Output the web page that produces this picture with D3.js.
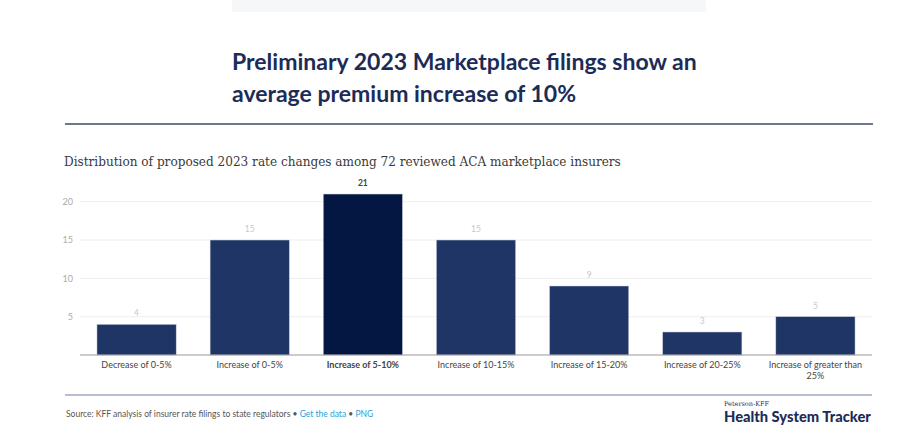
<!DOCTYPE html>
<html><head><meta charset="utf-8">
<script src="https://cdn.jsdelivr.net/npm/d3@7"></script>
<style>
html,body{margin:0;padding:0;background:#fff;}
svg{display:block;}
</style></head>
<body>
<svg id="chart" width="900" height="433"></svg>
<script>
const categories = ["Decrease of 0-5%","Increase of 0-5%","Increase of 5-10%","Increase of 10-15%","Increase of 15-20%","Increase of 20-25%","Increase of greater than 25%"];
const values = [4, 15, 21, 15, 9, 3, 5];
const highlight = "Increase of 5-10%";
const yTicks = [5, 10, 15, 20];
const titleLines = ["Preliminary 2023 Marketplace filings show an","average premium increase of 10%"];
const subtitle = "Distribution of proposed 2023 rate changes among 72 reviewed ACA marketplace insurers";

const svg = d3.select("#chart");
const sans = "Lato, 'Open Sans', sans-serif";

svg.append("rect").attr("x",232).attr("y",0).attr("width",474).attr("height",12).attr("fill","#f6f7f9");

function fit(sel, target){
  const w = sel.node().getComputedTextLength();
  const fs = parseFloat(sel.attr("font-size"));
  sel.attr("font-size", (fs*target/w).toFixed(2));
}

const t1 = svg.append("text").attr("x",232).attr("y",70).attr("font-family",sans).attr("font-weight",700)
  .attr("font-size",22).attr("fill","#1d2b57").text(titleLines[0]);
fit(t1, 465);
svg.append("text").attr("x",232).attr("y",102).attr("font-family",sans).attr("font-weight",700)
  .attr("font-size",t1.attr("font-size")).attr("fill","#1d2b57").text(titleLines[1]);

svg.append("line").attr("x1",65).attr("x2",873).attr("y1",124).attr("y2",124).attr("stroke","#3d4a66").attr("stroke-width",1.5);

const st = svg.append("text").attr("x",64).attr("y",166).attr("font-family","'DejaVu Serif Condensed', 'DejaVu Serif', serif")
  .style("font-stretch","condensed")
  .attr("font-size",12).attr("fill","#3a3a3a").text(subtitle);
fit(st, 557);

const x = d3.scaleBand().domain(categories).range([80, 872]).paddingInner(0.3).paddingOuter(0.15);
const y = d3.scaleLinear().domain([0, 20]).range([355, 201.7]);

svg.append("g").selectAll("line").data(yTicks).join("line")
  .attr("x1",80).attr("x2",872).attr("y1",d=>y(d)).attr("y2",d=>y(d))
  .attr("stroke","#eeeeee").attr("stroke-width",1);

svg.append("g").selectAll("text").data(yTicks).join("text")
  .attr("x",73).attr("y",d=>y(d)).attr("dy","0.35em").attr("text-anchor","end")
  .attr("font-family",sans).attr("font-size",9).attr("fill","#aaaaaa").text(d=>d);

svg.append("g").selectAll("rect").data(values).join("rect")
  .attr("x",(d,i)=>x(categories[i])).attr("width",x.bandwidth())
  .attr("y",d=>y(d)).attr("height",d=>y(0)-y(d))
  .attr("fill",(d,i)=>categories[i]===highlight?"#041642":"#1f3566")
  .attr("stroke","#c9cfdc").attr("stroke-width",0.5);

svg.append("g").selectAll("text").data(values).join("text")
  .attr("x",(d,i)=>x(categories[i])+x.bandwidth()/2).attr("y",d=>y(d)-8)
  .attr("text-anchor","middle").attr("font-family",sans).attr("font-size",8.5)
  .attr("font-weight",(d,i)=>categories[i]===highlight?700:400)
  .attr("fill",(d,i)=>categories[i]===highlight?"#444":"#c8c8c8").text(d=>d);

svg.append("line").attr("x1",80).attr("x2",872).attr("y1",y(0)).attr("y2",y(0)).attr("stroke","#999").attr("stroke-width",1);

const xl = svg.append("g").selectAll("text").data(categories).join("text")
  .attr("x",d=>x(d)+x.bandwidth()/2).attr("y",367.5).attr("text-anchor","middle")
  .attr("font-family",sans).attr("font-size",9).attr("fill","#444")
  .attr("font-weight",d=>d===highlight?700:400);
xl.each(function(d){
  const el = d3.select(this);
  if (d === "Increase of greater than 25%") {
    el.append("tspan").attr("x",x(d)+x.bandwidth()/2).text("Increase of greater than");
    el.append("tspan").attr("x",x(d)+x.bandwidth()/2).attr("dy",11).text("25%");
  } else el.text(d);
});

svg.append("line").attr("x1",65).attr("x2",872).attr("y1",395).attr("y2",395).attr("stroke","#b6bdcf").attr("stroke-width",2);

const src = svg.append("text").attr("x",66).attr("y",417).attr("font-family",sans).attr("font-size",8.5).attr("fill","#555");
src.append("tspan").text("Source: KFF analysis of insurer rate filings to state regulators \u2022 ");
src.append("tspan").attr("fill","#2aa0dc").text("Get the data");
src.append("tspan").text(" \u2022 ");
src.append("tspan").attr("fill","#2aa0dc").text("PNG");

svg.append("text").attr("x",724).attr("y",406).attr("font-family","'DejaVu Serif', serif").attr("font-size",6.5).attr("fill","#1d2b57").text("Peterson-KFF");
const logo = svg.append("text").attr("x",724).attr("y",422).attr("font-family",sans).attr("font-weight",900)
  .attr("font-size",14).attr("fill","#1d2b57").text("Health System Tracker");
fit(logo, 147);
</script>
</body></html>
